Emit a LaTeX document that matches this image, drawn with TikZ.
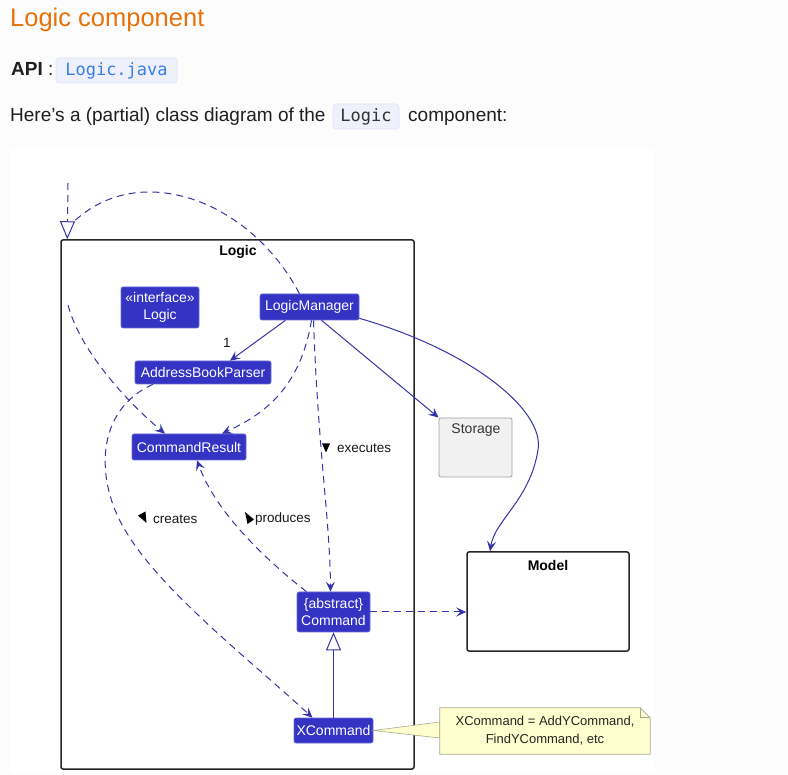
\documentclass[tikz,border=0pt]{standalone}
\usepackage{fontspec}
\setmainfont{Liberation Sans}
\newfontfamily\codefont{DejaVu Sans Mono}
\usetikzlibrary{arrows.meta,calc}
\definecolor{pagebg}{HTML}{FCFCFC}
\definecolor{titleorange}{HTML}{E8710A}
\definecolor{codebg}{HTML}{EEF0FB}
\definecolor{codeborder}{HTML}{E0E3F4}
\definecolor{codeblue}{HTML}{3C7FE0}
\definecolor{codedark}{HTML}{333333}
\definecolor{clsfill}{HTML}{3333C4}
\definecolor{clsborder}{HTML}{6A6AD8}
\definecolor{edgeblue}{HTML}{3434A8}
\definecolor{storagefill}{HTML}{F1F1F1}
\definecolor{storageborder}{HTML}{A0A0A0}
\definecolor{notefill}{HTML}{FEFECE}
\definecolor{noteborder}{HTML}{A8A890}
\tikzset{
  bodytext/.style={font=\fontsize{19}{22}\selectfont, inner sep=0pt, text=black!88},
  codebox/.style={fill=codebg, draw=codeborder, line width=0.6pt, rounded corners=3pt, inner sep=0pt, font=\codefont\fontsize{17}{20}\selectfont},
  cls/.style={fill=clsfill, draw=clsborder, line width=0.6pt, rounded corners=2pt, text=white, inner sep=0pt, align=center, font=\fontsize{14}{16.5}\selectfont},
  pkg/.style={draw=black!85, line width=1.5pt, rounded corners=2pt, inner sep=0pt},
  pkgtitle/.style={font=\bfseries\fontsize{14}{16}\selectfont, inner sep=0pt},
  edge/.style={draw=edgeblue, line width=1pt},
  dep/.style={edge, dash pattern=on 7pt off 5pt},
  arr/.style={-{Stealth[length=10pt,width=9pt,inset=4pt]}},
  realize/.style={-{Triangle[open,length=18pt,width=15pt]}},
  elabel/.style={font=\fontsize{13.5}{15}\selectfont, inner sep=0pt, text=black!90},
  dirmark/.style={fill=black},
}
\begin{document}
\begin{tikzpicture}[x=1pt,y=-1pt]
\useasboundingbox (0,0) rectangle (788,775);
\fill[pagebg] (0,0) rectangle (788,775);
\fill[white] (10,148) rectangle (655,773);

% ---- page text ----
\node[anchor=base west, inner sep=0pt, text=titleorange, font=\fontsize{25.5}{30}\selectfont] (title) at (10,27) {Logic component};
\node[bodytext, anchor=base west] (api) at (11,76) {\textbf{API} :};
\node[codebox, minimum width=121pt, minimum height=25pt, text=codeblue] (apicode) at (116.5,70.5) {Logic.java};
\node[bodytext, anchor=base west] (intro) at (10,122) {Here’s a (partial) class diagram of the};
\node[codebox, minimum width=66pt, minimum height=25pt, text=codedark] (introcode) at (366,116.5) {Logic};
\node[bodytext, anchor=base west] (intro2) at (408,122) {component:};

% ---- packages and classes ----
\node[pkg, minimum width=353pt, minimum height=529pt] (logicpkg) at (237.5,504.5) {};
\node[pkgtitle] (logictitle) at (238,252) {Logic};
\node[pkg, minimum width=162pt, minimum height=99pt] (model) at (548,601.5) {};
\node[pkgtitle] (modeltitle) at (548,565) {Model};
\node[fill=storagefill, draw=storageborder, line width=0.8pt, rounded corners=2pt, minimum width=73pt, minimum height=59pt, inner sep=0pt] (storage) at (475.5,447.5) {};
\node[font=\fontsize{14}{16}\selectfont, text=black!80, inner sep=0pt] (storagetitle) at (476,430) {Storage};

\node[cls, minimum width=78pt, minimum height=41pt] (iface) at (160,307.5) {«interface»\\Logic};
\node[cls, minimum width=99pt, minimum height=26pt] (lm) at (309.5,307) {LogicManager};
\node[cls, minimum width=136pt, minimum height=23pt] (abp) at (203,372.5) {AddressBookParser};
\node[cls, minimum width=114pt, minimum height=26pt] (cr) at (189,447) {CommandResult};
\node[cls, minimum width=73pt, minimum height=40pt] (cmd) at (333.5,612) {\{abstract\}\\Command};
\node[cls, minimum width=79pt, minimum height=25pt] (xc) at (333.5,730.5) {XCommand};

% ---- note ----
\node[minimum width=210pt, minimum height=46pt, inner sep=0pt] (note) at (545,731) {};
\filldraw[fill=notefill, draw=noteborder, line width=0.6pt] (xc.east) -- ([yshift=9pt]note.west) -- ([yshift=-7pt]note.west) -- cycle;
\filldraw[fill=notefill, draw=noteborder, line width=0.8pt]
  (note.north west) -- ([xshift=-10pt]note.north east) -- ([yshift=-10pt]note.north east) -- (note.south east) -- (note.south west) -- cycle;
\draw[noteborder, line width=0.8pt] ([xshift=-10pt]note.north east) -- ([xshift=-10pt,yshift=-10pt]note.north east) -- ([yshift=-10pt]note.north east);
\node[inner sep=0pt, align=center, font=\fontsize{13}{18}\selectfont, text=black!85] (notetext) at (note.center) {XCommand = AddYCommand,\\FindYCommand, etc};

% ---- connectors ----
\coordinate (rtop) at (68,183);
\coordinate (cin) at (68,305);
\draw[dep, realize] (rtop) -- ([xshift=7pt]logicpkg.north west);
\draw[dep] ([xshift=-10pt]lm.north) .. controls (250,200) and (140,160) .. ([xshift=14pt,yshift=18pt]logicpkg.north west);

\draw[dep, arr] (cin) .. controls (80,350) and (125,400) .. ([xshift=-24pt]cr.north);
\draw[edge, arr] ([xshift=-24pt]lm.south) -- ([xshift=27pt]abp.north);
\node[elabel] (one) at (227,343) {1};
\draw[dep, arr] ([xshift=2pt]lm.south) .. controls (300,390) and (262,415) .. ([xshift=33pt]cr.north);
\draw[dep, arr] ([xshift=4pt]lm.south) .. controls (318,450) and (330,520) .. ([xshift=-3pt]cmd.north);
\draw[edge, arr] ([xshift=12pt]lm.south) -- (storage.north west);
\draw[edge, arr] ([yshift=2pt]lm.south east) .. controls (470,350) and (545,410) .. (538,450) .. controls (530,500) and (495,520) .. ([xshift=-58pt]model.north);
\draw[dep, arr] ([xshift=-50pt]abp.south) .. controls (95,410) and (95,480) .. (125,530) .. controls (160,590) and (250,660) .. ([xshift=-21pt]xc.north);
\draw[dep, arr] ([xshift=-27pt]cmd.north) .. controls (260,555) and (215,510) .. ([xshift=8pt]cr.south);
\draw[dep, arr] (cmd.east) -- (cmd.east -| model.west);
\draw[edge, realize] (xc.north) -- (cmd.south);

% ---- edge labels ----
\node[elabel, anchor=west] (lexec) at (337,448) {executes};
\fill[dirmark] (322,443.5) -- (330,443.5) -- (326,452.5) -- cycle;
\node[elabel, anchor=west] (lcreate) at (153,519) {creates};
\fill[dirmark] (138,515.5) -- (145.5,511.5) -- (146.5,523) -- cycle;
\node[elabel, anchor=west] (lprod) at (255,519) {produces};
\fill[dirmark] (245,512) -- (254,519.5) -- (247.5,524) -- cycle;
\end{tikzpicture}
\end{document}
